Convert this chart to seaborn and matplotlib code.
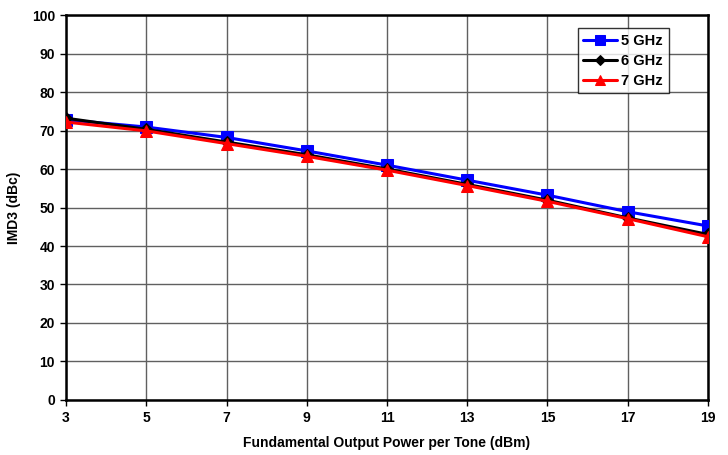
import matplotlib
matplotlib.use("Agg")
import matplotlib.pyplot as plt
import seaborn as sns
import pandas as pd

power = [3, 5, 7, 9, 11, 13, 15, 17, 19]
imd3_5ghz = [72.8, 70.9, 68.2, 64.7, 61.0, 57.1, 53.2, 48.9, 45.2]
imd3_6ghz = [73.2, 70.3, 67.0, 63.7, 60.0, 56.0, 51.9, 47.3, 43.0]
imd3_7ghz = [72.2, 69.9, 66.6, 63.3, 59.7, 55.7, 51.6, 47.1, 42.4]
series_names = ["5 GHz", "6 GHz", "7 GHz"]

df = pd.DataFrame({
    "power": power * 3,
    "imd3": imd3_5ghz + imd3_6ghz + imd3_7ghz,
    "freq": [n for n in series_names for _ in power],
})

sns.set_theme(style="white")
plt.rcParams["font.family"] = ["Liberation Sans", "DejaVu Sans"]
plt.rcParams["font.weight"] = "bold"
plt.rcParams["text.color"] = "black"
plt.rcParams["axes.labelcolor"] = "black"
plt.rcParams["xtick.color"] = "black"
plt.rcParams["ytick.color"] = "black"

fig = plt.figure(figsize=(7.28, 4.55), dpi=100)
ax = fig.add_axes([0.0907, 0.1209, 0.8818, 0.8461])

palette = {"5 GHz": "#0000ff", "6 GHz": "#000000", "7 GHz": "#ff0000"}
markers = {"5 GHz": "s", "6 GHz": "D", "7 GHz": "^"}
sizes = {"5 GHz": 8, "6 GHz": 6, "7 GHz": 9}

for name in series_names:
    sub = df[df["freq"] == name]
    sns.lineplot(data=sub, x="power", y="imd3", ax=ax, color=palette[name],
                 marker=markers[name], markersize=sizes[name],
                 markeredgecolor=palette[name], linewidth=2.2, label=name,
                 zorder=3)

ax.set_xlim(3, 19)
ax.set_ylim(0, 100)
ax.set_xticks(power)
ax.set_yticks(range(0, 101, 10))
ax.grid(True, color="#606060", linewidth=1.0, zorder=0)
ax.set_axisbelow(True)
for s in ax.spines.values():
    s.set_color("black")
    s.set_linewidth(1.8)
ax.tick_params(axis="both", labelsize=10, length=4, width=1, color="black",
               labelcolor="black", direction="out", bottom=True, left=True,
               pad=4)
for lbl in ax.get_xticklabels() + ax.get_yticklabels():
    lbl.set_fontweight("bold")

ax.set_xlabel("Fundamental Output Power per Tone (dBm)", fontsize=10,
              fontweight="bold", labelpad=8, color="black")
ax.set_ylabel("IMD3 (dBc)", fontsize=10, fontweight="bold", labelpad=8,
              color="black")

leg = ax.legend(loc="upper left", bbox_to_anchor=(0.797, 0.966),
                borderaxespad=0, frameon=True, fancybox=False,
                edgecolor="black", fontsize=10.5, handlelength=2.3,
                borderpad=0.4, labelspacing=0.4, handletextpad=0.3,
                markerscale=0.85)
leg.get_frame().set_linewidth(1.0)
for t in leg.get_texts():
    t.set_fontweight("bold")
    t.set_color("black")

fig.savefig("out.png", dpi=100, facecolor="white")
